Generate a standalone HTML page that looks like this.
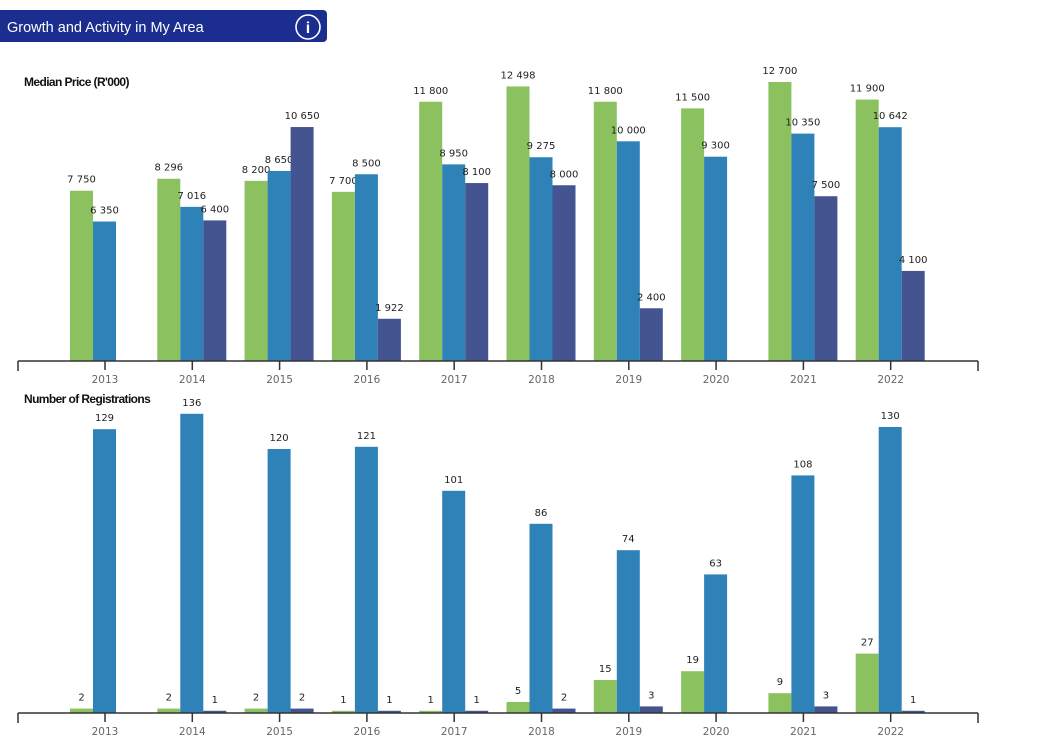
<!DOCTYPE html>
<html><head><meta charset="utf-8"><style>
body{margin:0;width:1047px;height:742px;background:#fff;overflow:hidden;font-family:"Liberation Sans",sans-serif;}
svg{position:absolute;left:0;top:0}
</style></head><body>
<svg width="1047" height="742">
<rect x="-6" y="10" width="333" height="32" rx="4" fill="#1b2d8e"/>
<text x="7" y="32" fill="#fff" font-size="14.5">Growth and Activity in My Area</text>
<g>
<circle cx="308" cy="27" r="12" fill="none" stroke="#fff" stroke-width="1.6"/>
<text x="308" y="33" fill="#fff" font-size="16" font-weight="bold" text-anchor="middle">i</text>
</g>
<text x="24" y="86" font-size="12" font-weight="bold" fill="#111" letter-spacing="-0.6">Median Price (R'000)</text>
<text x="24" y="403" font-size="12" font-weight="bold" fill="#111" letter-spacing="-0.6">Number of Registrations</text>
<g id="top"></g><g id="bot"></g>
</svg>
<script>
const years=['2013','2014','2015','2016','2017','2018','2019','2020','2021','2022'];
const priceGreen=[7750,8296,8200,7700,11800,12498,11800,11500,12700,11900];
const priceBlue=[6350,7016,8650,8500,8950,9275,10000,9300,10350,10642];
const priceNavy=[null,6400,10650,1922,8100,8000,2400,null,7500,4100];
const regGreen=[2,2,2,1,1,5,15,19,9,27];
const regBlue=[129,136,120,121,101,86,74,63,108,130];
const regNavy=[null,1,2,1,1,2,3,null,3,1];
const colors=['#8cc160','#2e82b8','#435490'];
const NS='http://www.w3.org/2000/svg';
function xc(i){return 105+i*87.3;}
function fmt(v){return String(v).replace(/\B(?=(\d{3})+(?!\d))/g,' ');}
function mk(tag,attrs,parent){const e=document.createElementNS(NS,tag);for(const k in attrs)e.setAttribute(k,attrs[k]);parent.appendChild(e);return e;}
function draw(g,base,scale,series,prefix,minH){
  series.forEach((arr,s)=>{
    arr.forEach((v,i)=>{
      if(v===null)return;
      const h=Math.max(v*scale,minH);
      const x=xc(i)-35+s*23;
      const r=mk('rect',{x:x,y:base-h,width:23,height:h,fill:colors[s]},g);
      
      
      const t=mk('text',{x:x+11.5,y:base-h-8,'font-size':10,fill:'#222','text-anchor':'middle','font-family':'DejaVu Sans, sans-serif'},g);
      t.textContent=fmt(v);
      
      
    });
  });
  const ax=mk('path',{d:'M18 '+base+' H978 M18 '+base+' v10 M978 '+base+' v10',stroke:'#333','stroke-width':1.5,fill:'none'},g);
  
  
  years.forEach((y,i)=>{
    mk('line',{x1:xc(i),x2:xc(i),y1:base,y2:base+9,stroke:'#333','stroke-width':1.5},g);
    const t=mk('text',{x:xc(i),y:base+22,'font-size':10.5,fill:'#666','text-anchor':'middle','font-family':'DejaVu Sans, sans-serif'},g);
    t.textContent=y;
    
    
  });
}
draw(document.getElementById('top'),361,279/12700,[priceGreen,priceBlue,priceNavy],'price',0);
draw(document.getElementById('bot'),713,2.2,[regGreen,regBlue,regNavy],'registrations',2);
</script>
</body></html>
